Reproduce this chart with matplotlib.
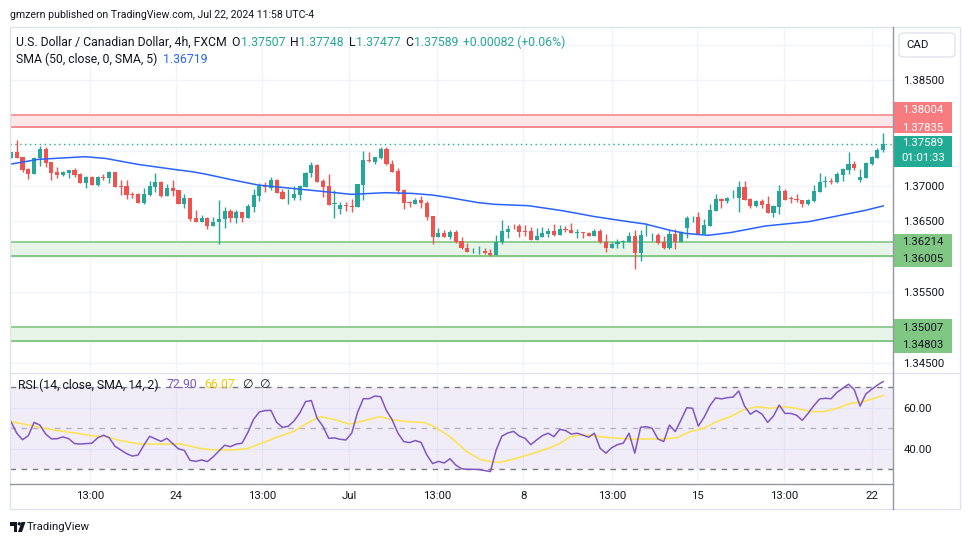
import matplotlib
matplotlib.use("Agg")
import matplotlib.pyplot as plt
from matplotlib.patches import Rectangle, FancyBboxPatch, Ellipse, Polygon
from matplotlib.lines import Line2D
import numpy as np

plt.rcParams['font.family'] = ['Roboto', 'DejaVu Sans']

# USD/CAD 4h candles (FXCM), oldest first
opens = [1.37400, 1.37476, 1.37410, 1.37240, 1.37170, 1.37391, 1.37523, 1.37339, 1.37198, 1.37155,
         1.37188, 1.37226, 1.37170, 1.37047, 1.37127, 1.37014, 1.37132, 1.37118, 1.37198, 1.37000,
         1.37000, 1.36892, 1.36887, 1.36765, 1.36873, 1.36991, 1.37057, 1.36863, 1.36972, 1.36939,
         1.36750, 1.36831, 1.36543, 1.36496, 1.36548, 1.36440, 1.36487, 1.36529, 1.36647, 1.36553,
         1.36628, 1.36553, 1.36708, 1.36863, 1.37000, 1.36977, 1.37085, 1.36915, 1.36840, 1.36835,
         1.36878, 1.36991, 1.37179, 1.37297, 1.37071, 1.37000, 1.36750, 1.36680, 1.36732, 1.36717,
         1.36708, 1.37014, 1.37367, 1.37344, 1.37400, 1.37523, 1.37306, 1.37212, 1.36944, 1.36779,
         1.36750, 1.36802, 1.36755, 1.36576, 1.36284, 1.36336, 1.36284, 1.36355, 1.36223, 1.36124,
         1.36077, 1.36077, 1.36086, 1.36058, 1.36030, 1.36204, 1.36355, 1.36440, 1.36430, 1.36364,
         1.36364, 1.36242, 1.36284, 1.36322, 1.36364, 1.36308, 1.36392, 1.36378, 1.36341, 1.36350,
         1.36341, 1.36298, 1.36364, 1.36213, 1.36129, 1.36176, 1.36209, 1.36213, 1.36294, 1.36049,
         1.36303, 1.36303, 1.36308, 1.36204, 1.36119, 1.36317, 1.36213, 1.36411, 1.36557, 1.36557,
         1.36327, 1.36440, 1.36652, 1.36816, 1.36793, 1.36840, 1.36835, 1.36986, 1.36816, 1.36722,
         1.36788, 1.36746, 1.36623, 1.36708, 1.36929, 1.36835, 1.36816, 1.36798, 1.36741, 1.36788,
         1.36920, 1.37052, 1.37075, 1.37061, 1.37160, 1.37231, 1.37311, 1.37090, 1.37118, 1.37311,
         1.37400, 1.37507]
highs = [1.37485, 1.37650, 1.37415, 1.37250, 1.37410, 1.37570, 1.37556, 1.37344, 1.37269, 1.37212,
         1.37231, 1.37254, 1.37179, 1.37141, 1.37141, 1.37141, 1.37174, 1.37212, 1.37203, 1.37085,
         1.37085, 1.36920, 1.36896, 1.36977, 1.37071, 1.37179, 1.37071, 1.37024, 1.37085, 1.36944,
         1.36887, 1.36835, 1.36656, 1.36590, 1.36562, 1.36562, 1.36802, 1.36703, 1.36675, 1.36661,
         1.36633, 1.36741, 1.36953, 1.37047, 1.37061, 1.37132, 1.37099, 1.36958, 1.36958, 1.37000,
         1.37014, 1.37203, 1.37339, 1.37306, 1.37099, 1.37170, 1.36944, 1.36769, 1.36769, 1.36821,
         1.37033, 1.37495, 1.37485, 1.37415, 1.37551, 1.37551, 1.37367, 1.37259, 1.36958, 1.36788,
         1.36826, 1.36859, 1.36788, 1.36581, 1.36402, 1.36378, 1.36378, 1.36374, 1.36275, 1.36199,
         1.36129, 1.36148, 1.36129, 1.36110, 1.36308, 1.36520, 1.36449, 1.36463, 1.36468, 1.36449,
         1.36421, 1.36402, 1.36421, 1.36402, 1.36468, 1.36449, 1.36435, 1.36477, 1.36388, 1.36355,
         1.36355, 1.36388, 1.36388, 1.36322, 1.36204, 1.36251, 1.36237, 1.36345, 1.36374, 1.36374,
         1.36473, 1.36336, 1.36331, 1.36294, 1.36374, 1.36392, 1.36364, 1.36581, 1.36581, 1.36628,
         1.36529, 1.36746, 1.36887, 1.36826, 1.36845, 1.36944, 1.37071, 1.37071, 1.36835, 1.36798,
         1.36816, 1.36859, 1.36732, 1.37014, 1.36953, 1.36863, 1.36882, 1.36802, 1.36816, 1.37014,
         1.37179, 1.37141, 1.37108, 1.37203, 1.37259, 1.37476, 1.37353, 1.37236, 1.37334, 1.37429,
         1.37532, 1.37748]
lows = [1.37396, 1.37391, 1.37203, 1.37099, 1.37165, 1.37287, 1.37273, 1.37085, 1.37118, 1.37146,
        1.37118, 1.37132, 1.37042, 1.36977, 1.37009, 1.37005, 1.37085, 1.37047, 1.36981, 1.36873,
        1.36816, 1.36835, 1.36760, 1.36741, 1.36863, 1.36920, 1.36849, 1.36859, 1.36863, 1.36746,
        1.36694, 1.36510, 1.36491, 1.36491, 1.36397, 1.36435, 1.36176, 1.36402, 1.36496, 1.36482,
        1.36496, 1.36548, 1.36628, 1.36788, 1.36920, 1.36944, 1.36901, 1.36816, 1.36746, 1.36807,
        1.36807, 1.36986, 1.37123, 1.37057, 1.36849, 1.36727, 1.36553, 1.36609, 1.36647, 1.36637,
        1.36703, 1.36807, 1.37344, 1.37306, 1.37377, 1.37302, 1.37193, 1.36882, 1.36670, 1.36708,
        1.36746, 1.36684, 1.36515, 1.36176, 1.36279, 1.36279, 1.36251, 1.36190, 1.36110, 1.36067,
        1.36058, 1.36044, 1.36044, 1.36016, 1.36025, 1.36176, 1.36270, 1.36388, 1.36284, 1.36298,
        1.36237, 1.36237, 1.36279, 1.36275, 1.36289, 1.36303, 1.36355, 1.36336, 1.36270, 1.36270,
        1.36294, 1.36294, 1.36199, 1.36072, 1.36119, 1.36129, 1.36129, 1.36204, 1.35827, 1.35940,
        1.36298, 1.36223, 1.36185, 1.36115, 1.36110, 1.36110, 1.36204, 1.36270, 1.36496, 1.36322,
        1.36322, 1.36430, 1.36647, 1.36694, 1.36765, 1.36835, 1.36637, 1.36802, 1.36694, 1.36708,
        1.36694, 1.36619, 1.36567, 1.36609, 1.36802, 1.36765, 1.36769, 1.36708, 1.36732, 1.36779,
        1.36915, 1.36991, 1.37024, 1.37038, 1.37075, 1.37170, 1.37226, 1.37061, 1.37108, 1.37297,
        1.37391, 1.37477]
closes = [1.37476, 1.37400, 1.37226, 1.37170, 1.37396, 1.37523, 1.37330, 1.37188, 1.37155, 1.37198,
          1.37226, 1.37155, 1.37047, 1.37132, 1.37014, 1.37127, 1.37118, 1.37198, 1.36986, 1.36986,
          1.36873, 1.36878, 1.36765, 1.36882, 1.37000, 1.37057, 1.36859, 1.36972, 1.36934, 1.36750,
          1.36831, 1.36534, 1.36496, 1.36543, 1.36440, 1.36491, 1.36534, 1.36647, 1.36553, 1.36628,
          1.36553, 1.36717, 1.36873, 1.37000, 1.36986, 1.37085, 1.36906, 1.36821, 1.36849, 1.36887,
          1.37000, 1.37184, 1.37297, 1.37061, 1.36991, 1.36732, 1.36760, 1.36732, 1.36717, 1.36708,
          1.37024, 1.37367, 1.37353, 1.37410, 1.37523, 1.37306, 1.37203, 1.36934, 1.36765, 1.36765,
          1.36802, 1.36755, 1.36567, 1.36284, 1.36336, 1.36284, 1.36345, 1.36213, 1.36119, 1.36072,
          1.36082, 1.36086, 1.36049, 1.36030, 1.36213, 1.36364, 1.36392, 1.36430, 1.36355, 1.36355,
          1.36242, 1.36289, 1.36336, 1.36364, 1.36308, 1.36392, 1.36378, 1.36341, 1.36350, 1.36341,
          1.36298, 1.36364, 1.36204, 1.36129, 1.36176, 1.36209, 1.36218, 1.36294, 1.36049, 1.36308,
          1.36312, 1.36308, 1.36190, 1.36119, 1.36317, 1.36213, 1.36350, 1.36543, 1.36567, 1.36327,
          1.36449, 1.36656, 1.36816, 1.36793, 1.36831, 1.36845, 1.36986, 1.36807, 1.36722, 1.36788,
          1.36732, 1.36623, 1.36717, 1.36929, 1.36807, 1.36821, 1.36798, 1.36741, 1.36802, 1.36929,
          1.37057, 1.37066, 1.37061, 1.37170, 1.37245, 1.37311, 1.37259, 1.37127, 1.37325, 1.37405,
          1.37507, 1.37589]

# SMA(50) line, sampled along the blue curve (candle index, price)
sma_x = [0, 4.7, 12.8, 16.3, 22.0, 27.8, 31.3, 33.6, 37.9, 42.8,
         48.6, 54.4, 59.0, 64.8, 69.4, 72.9, 76.0, 80.9, 83.8, 89.6,
         95.4, 101.1, 106.9, 109.8, 114.1, 116.7, 120.7, 124.8, 130.6, 138.1,
         143.3, 147.9, 151]
sma_y = [1.37311, 1.37377, 1.37415, 1.37391, 1.37306, 1.37240, 1.37203, 1.37170, 1.37094, 1.37014,
         1.36967, 1.36920, 1.36882, 1.36906, 1.36896, 1.36873, 1.36835, 1.36765, 1.36741, 1.36722,
         1.36652, 1.36567, 1.36496, 1.36463, 1.36374, 1.36331, 1.36303, 1.36345, 1.36435, 1.36496,
         1.36581, 1.36656, 1.36719]

# RSI(14), one value per candle
rsi = [53.3, 47.6, 44.4, 46.4, 52.9, 51.6, 47.2, 44.8, 44.9, 45.8,
       44.9, 42.5, 42.3, 42.5, 42.7, 45.3, 46.6, 45.4, 41.2, 39.4,
       37.6, 36.4, 36.9, 41.7, 46.1, 44.8, 43.6, 45.1, 42.5, 39.9,
       39.2, 34.3, 33.8, 34.5, 33.7, 36.0, 38.9, 41.7, 41.0, 42.3,
       42.7, 47.9, 54.4, 58.0, 58.7, 58.8, 52.9, 50.5, 51.0, 53.6,
       57.5, 63.1, 63.6, 54.9, 51.0, 45.1, 45.3, 44.6, 44.3, 47.7,
       57.8, 64.5, 64.5, 65.8, 65.5, 58.7, 54.1, 47.6, 43.5, 43.0,
       44.0, 43.1, 36.9, 32.7, 33.8, 33.0, 35.1, 32.0, 30.2, 29.9,
       29.9, 29.8, 29.3, 28.8, 39.4, 46.2, 47.7, 48.5, 46.2, 45.1,
       42.0, 44.3, 46.4, 47.6, 45.9, 49.5, 48.9, 47.2, 47.6, 46.7,
       45.6, 47.6, 40.2, 37.8, 40.5, 42.0, 42.7, 47.6, 37.8, 50.5,
       50.8, 50.0, 44.8, 43.5, 51.6, 48.4, 54.1, 60.1, 59.8, 51.1,
       55.4, 61.1, 64.9, 64.4, 65.0, 65.3, 68.3, 60.9, 56.9, 58.7,
       57.0, 52.9, 56.0, 61.4, 57.3, 57.3, 56.4, 53.9, 57.3, 61.1,
       64.4, 64.7, 64.5, 67.6, 69.6, 71.6, 68.9, 60.9, 66.8, 69.1,
       71.2, 72.90]

# SMA(14) of RSI, sampled along the yellow curve
rsi_sma_x = [0, 3.9, 7.9, 11.4, 14.3, 16.6, 18.9, 22.3, 25.8, 29.3,
             32.7, 35.0, 38.5, 40.8, 43.7, 46.0, 48.9, 51.2, 53.5, 55.8,
             58.7, 61.6, 63.9, 66.2, 68.5, 71.4, 73.1, 76.0, 78.9, 81.2,
             82.9, 84.7, 86.4, 88.1, 89.9, 91.6, 93.3, 95.1, 96.8, 98.5,
             100.3, 102.0, 103.7, 105.5, 107.8, 110.6, 113.0, 115.3, 117.6, 119.9,
             122.2, 124.5, 126.8, 129.1, 131.4, 133.7, 136.0, 138.4, 140.7, 143.0,
             145.3, 147.6, 151]
rsi_sma_y = [53.3, 51.1, 48.9, 47.6, 46.2, 45.9, 44.0, 42.3, 42.3, 42.3,
             40.2, 39.4, 39.4, 40.0, 43.0, 45.6, 48.4, 52.4, 55.7, 54.4,
             52.0, 54.1, 55.7, 54.1, 53.3, 52.9, 51.1, 45.9, 38.6, 34.8,
             33.7, 33.3, 34.5, 35.8, 37.3, 38.9, 40.5, 42.7, 45.9, 46.7,
             46.6, 45.9, 45.4, 45.1, 44.6, 44.8, 44.8, 45.4, 48.4, 50.0,
             53.3, 55.7, 59.0, 60.6, 59.8, 60.6, 59.8, 58.2, 58.2, 59.8,
             62.2, 63.1, 66.07]

time_ticks = [13.7, 28.6, 43.5, 58.5, 73.8, 88.7, 104.1, 118.8, 133.9, 149.1]
time_labels = ['13:00', '24', '13:00', 'Jul', '13:00', '8', '13:00', '15', '13:00', '22']

resistance = [1.37835, 1.38004]
support_1 = [1.36005, 1.36214]
support_2 = [1.34803, 1.35007]
countdown = '01:01:33'

DARK = '#131722'
UP, DOWN = '#26A69A', '#EF5350'
LEGEND_SIZE = 8.8
AXIS_SIZE = 8.2

W, H = 970, 545


def fx(px):
    return px / W


def fy(py):
    return 1 - py / H


fig = plt.figure(figsize=(W / 100, H / 100), dpi=100)
fig.patch.set_facecolor('white')
ax = fig.add_axes([fx(10), fy(372), (893 - 10) / W, (372 - 28) / H])
rax = fig.add_axes([fx(10), fy(483), (893 - 10) / W, (483 - 373) / H], sharex=ax)

# --- price pane ---
o = np.array(opens)
c = np.array(closes)
idx = np.arange(len(c))
cols = np.where(c >= o, UP, DOWN)
ax.vlines(idx, lows, highs, colors=cols, lw=1, zorder=4)
ax.bar(idx, np.maximum(np.abs(c - o), 0.00007), bottom=np.minimum(o, c),
       width=0.72, color=cols, lw=0, zorder=5)
ax.plot(sma_x, sma_y, color='#2962FF', lw=1.1, zorder=6)

for (lo, hi), fill, edge in [(resistance, '#FCE6E7', '#F48A8E'),
                             (support_1, '#E7F4E8', '#81C784'),
                             (support_2, '#E7F4E8', '#81C784')]:
    ax.axhspan(lo, hi, color=fill, lw=0, zorder=1)
    ax.axhline(lo, color=edge, lw=1.4, zorder=2)
    ax.axhline(hi, color=edge, lw=1.2, zorder=2)

ax.axhline(closes[-1], color='#22AB94', lw=1, ls=(0, (1, 2.5)), zorder=3)

ax.set_xlim(-0.17, 152.7)
ax.set_ylim(1.34370, 1.39235)
price_ticks = np.round(np.arange(1.345, 1.3901, 0.005), 3)
shown = [1.385, 1.370, 1.365, 1.355, 1.345]
ax.set_yticks(price_ticks)
ax.set_yticklabels([f'{t:.5f}' if any(abs(t - s) < 1e-9 for s in shown) else '' for t in price_ticks])
ax.yaxis.tick_right()
ax.tick_params(axis='y', length=0, pad=7.5, labelsize=AXIS_SIZE, labelcolor=DARK)
ax.tick_params(axis='x', length=0, labelbottom=False)
ax.set_xticks(time_ticks)
ax.grid(True, color='#F0F3FA', lw=1)
ax.set_axisbelow(True)
for s in ax.spines.values():
    s.set_visible(False)

# --- RSI pane ---
rax.axhspan(30, 70, color='#7E57C2', alpha=0.1, lw=0, zorder=1)
for lvl, a in [(70, 1.0), (50, 0.5), (30, 1.0)]:
    rax.axhline(lvl, color='#787B86', lw=1, ls=(0, (4, 4)), alpha=a, zorder=2)
rax.plot(rsi_sma_x, rsi_sma_y, color='#FDE24B', lw=1.1, zorder=3)
rax.plot(idx, rsi, color='#7E57C2', lw=1.1, zorder=4)
rax.set_ylim(23.2, 77.1)
rax.set_yticks([40, 60])
rax.set_yticklabels(['40.00', '60.00'])
rax.yaxis.tick_right()
rax.tick_params(axis='y', length=0, pad=7.5, labelsize=AXIS_SIZE, labelcolor=DARK)
rax.set_xticks(time_ticks)
rax.set_xticklabels(time_labels)
rax.tick_params(axis='x', length=0, pad=6, labelsize=AXIS_SIZE, labelcolor=DARK)
rax.grid(True, color='#F0F3FA', lw=1)
rax.set_axisbelow(True)
for s in rax.spines.values():
    s.set_visible(False)


# --- frame lines ---
def hline(y, x0, x1, color, lw=1):
    fig.add_artist(Line2D([fx(x0), fx(x1)], [fy(y), fy(y)], color=color, lw=lw))


def vline(x, y0, y1, color, lw=1):
    fig.add_artist(Line2D([fx(x), fx(x)], [fy(y0), fy(y1)], color=color, lw=lw))


fig.add_artist(Rectangle((fx(10), fy(509)), (960 - 10) / W, (509 - 27) / H,
                         fill=False, edgecolor='#E0E3EB', lw=1))
hline(372.5, 10, 960, '#E0E3EB')
vline(893.5, 27, 509, '#9598A1')
hline(483.5, 10, 893.5, '#9598A1')


# --- texts ---
def runs(x, y, parts, size):
    r = fig.canvas.get_renderer()
    for s, col, gap in parts:
        t = fig.text(fx(x), fy(y), s, color=col, fontsize=size, va='center', ha='left')
        x += t.get_window_extent(r).width + gap


fig.text(fx(10), fy(15), 'gmzern published on TradingView.com, Jul 22, 2024 11:58 UTC-4',
         color=DARK, fontsize=7.6, va='center')

chg = closes[-1] - closes[-2]
runs(16, 42.7, [('U.S. Dollar / Canadian Dollar, 4h, FXCM', DARK, 5),
                ('O', DARK, 0.5), (f'{opens[-1]:.5f}', UP, 5),
                ('H', DARK, 0.5), (f'{highs[-1]:.5f}', UP, 5),
                ('L', DARK, 0.5), (f'{lows[-1]:.5f}', UP, 5),
                ('C', DARK, 0.5), (f'{closes[-1]:.5f}', UP, 5),
                (f'{chg:+.5f} ({chg / closes[-2] * 100:+.2f}%)', UP, 0)], LEGEND_SIZE)
runs(16, 59.3, [('SMA (50, close, 0, SMA, 5)', DARK, 6), (f'{sma_y[-1]:.5f}', '#2962FF', 0)], LEGEND_SIZE)
runs(18, 385, [('RSI (14, close, SMA, 14, 2)', DARK, 8), (f'{rsi[-1]:.2f}', '#7E57C2', 7),
               (f'{rsi_sma_y[-1]:.2f}', '#F2CB05', 7), ('\u2205', DARK, 6), ('\u2205', DARK, 0)], LEGEND_SIZE)

# currency button
fig.add_artist(FancyBboxPatch((fx(899), fy(57)), 56 / W, 24 / H,
                              boxstyle='round,pad=0,rounding_size=0.006',
                              facecolor='white', edgecolor='#E0E3EB', lw=1))
fig.text(fx(917.5), fy(45), 'CAD', color=DARK, fontsize=AXIS_SIZE, ha='center', va='center')


# price-scale labels
def price_box(y0, y1, texts, ys, face, tcol):
    fig.add_artist(Rectangle((fx(894), fy(y1)), 58 / W, (y1 - y0) / H,
                             facecolor=face, edgecolor='none'))
    for s, yy in zip(texts, ys):
        fig.text(fx(923), fy(yy), s, color=tcol, fontsize=AXIS_SIZE, ha='center', va='center')


price_box(101.7, 133.3, [f'{resistance[1]:.5f}', f'{resistance[0]:.5f}'], [110, 127.7], '#F77C80', 'white')
price_box(136, 166.7, [f'{closes[-1]:.5f}', countdown], [143.3, 158.3], '#22AB94', 'white')
price_box(234, 267, [f'{support_1[1]:.5f}', f'{support_1[0]:.5f}'], [242, 259.3], '#81C784', DARK)
price_box(319, 352.7, [f'{support_2[1]:.5f}', f'{support_2[0]:.5f}'], [327.7, 345], '#81C784', DARK)

# TradingView logo
fig.add_artist(Rectangle((fx(10), fy(525.5)), 7 / W, 3.5 / H, facecolor=DARK, edgecolor='none'))
fig.add_artist(Rectangle((fx(13.5), fy(532)), 3.5 / W, 10 / H, facecolor=DARK, edgecolor='none'))
fig.add_artist(Ellipse((fx(19.3), fy(523.8)), 3.4 / W, 3.4 / H, facecolor=DARK, edgecolor='none'))
fig.add_artist(Polygon([(fx(21.5), fy(522)), (fx(25.5), fy(522)), (fx(22), fy(532)), (fx(18), fy(532))],
                       closed=True, facecolor=DARK, edgecolor='none'))
fig.text(fx(27), fy(527), 'TradingView', color=DARK, fontsize=8.2, va='center')

fig.savefig('out.png', dpi=100)
